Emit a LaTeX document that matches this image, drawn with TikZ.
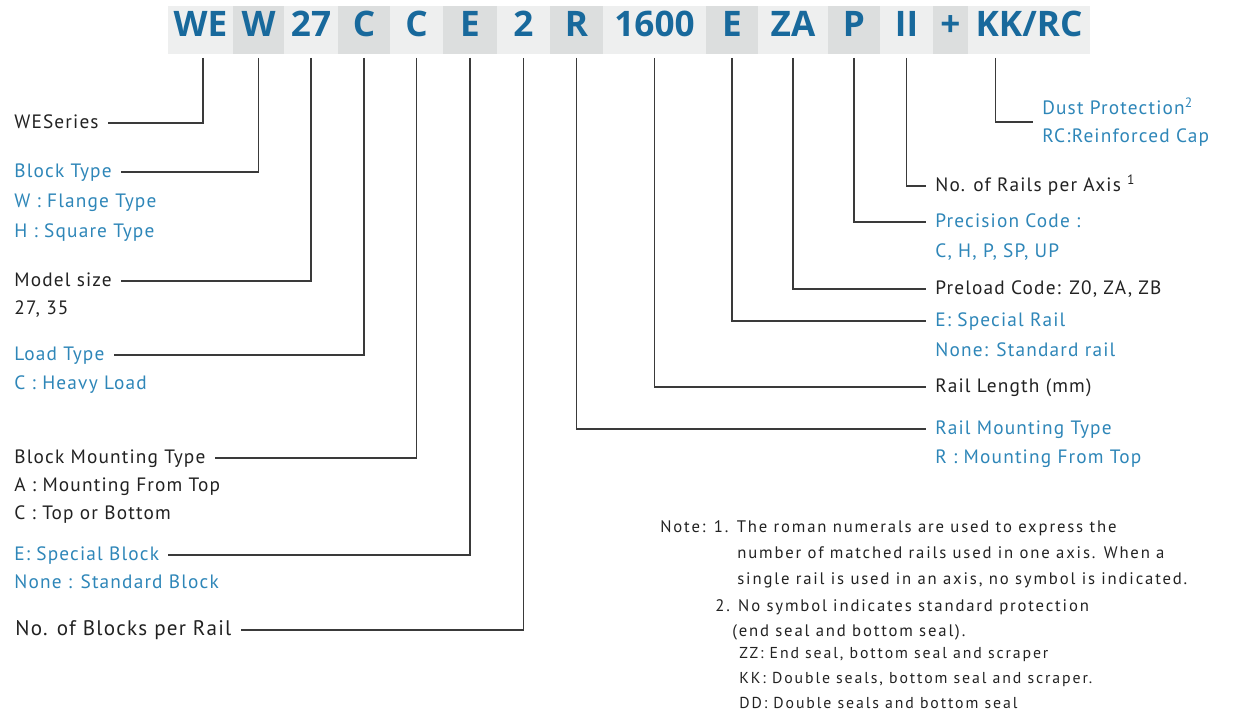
\documentclass[tikz,border=0pt]{standalone}
\usepackage{fontspec}
\setmainfont{PT Sans}[LetterSpace=6]
\newfontfamily\headfont{Open Sans}
\newfontfamily\notefont{PT Sans}[LetterSpace=11]
\newfontfamily\notesmallfont{PT Sans}[LetterSpace=12]
\usetikzlibrary{
  calc,
  positioning
}
\definecolor{ink}{HTML}{222222}
\definecolor{headblue}{HTML}{18699C}
\definecolor{labelblue}{HTML}{2E86B8}
\definecolor{linegray}{HTML}{3A3A3A}
\definecolor{seglight}{HTML}{EEEFEF}
\definecolor{segdark}{HTML}{DCDEDE}
\tikzset{
  font=\rmfamily,
  code/.style={
    font=\headfont\bfseries\fontsize{20}{20}\selectfont,
    text=headblue,
    minimum height=9.6mm,
    text height=0.72em,
    text depth=0pt,
    inner sep=0pt
  },
  code light/.style={code, fill=seglight},
  code dark/.style={code, fill=segdark},
  label/.style={
    anchor=west,
    inner sep=0pt,
    text height=7.8pt,
    text depth=2pt,
    text=ink,
    font=\rmfamily\fontsize{11}{12}\selectfont
  },
  label blue/.style={label, text=labelblue},
  note/.style={
    anchor=west,
    inner sep=0pt,
    text=ink,
    font=\notefont\fontsize{9.5}{11}\selectfont
  },
  note small/.style={note, font=\notesmallfont\fontsize{9}{10}\selectfont},
  leader/.style={draw=linegray, line width=0.9pt, shorten <=2pt, shorten >=5pt}
}

\begin{document}
\begin{tikzpicture}[x=0.2mm,y=-0.2mm]
  \useasboundingbox (0,0) rectangle (1234,713);

  % Ordering code
  \node[code light, minimum width=13mm] (tWE) at (200.5,30) {WE};
  \node[code dark, minimum width=10.2mm] (tW) at (258.5,30) {W};
  \node[code light, minimum width=10.8mm] (t27) at (311,30) {27};
  \node[code dark, minimum width=10.4mm] (tC1) at (364,30) {C};
  \node[code light, minimum width=10.6mm] (tC2) at (416.5,30) {C};
  \node[code dark, minimum width=10.8mm] (tE1) at (470,30) {E};
  \node[code light, minimum width=10.6mm] (t2) at (523.5,30) {2};
  \node[code dark, minimum width=10.6mm] (tR) at (576.5,30) {R};
  \node[code light, minimum width=20.6mm] (t1600) at (654.5,30) {1600};
  \node[code dark, minimum width=10.4mm] (tE2) at (732,30) {E};
  \node[code light, minimum width=14mm] (tZA) at (793,30) {ZA};
  \node[code dark, minimum width=10.4mm] (tP) at (854,30) {P};
  \node[code light, minimum width=10.6mm] (tII) at (906.5,30) {II};
  \node[code dark, minimum width=7mm] (tPlus) at (950.5,30) {+};
  \node[code light, minimum width=24.4mm] (tKK) at (1029,30) {KK/RC};
  \coordinate (wedrop) at ($(tWE.south)+(2.5,0)$);
  \coordinate (kkdrop) at ($(tKK.south west)+(28,0)$);

  % Block side
  \node[label] (lSeries) at (14,123) {WESeries};
  \node[label blue] (lBlock) at (14,172) {Block Type};
  \node[label blue] (lBlockW) at (14,202) {W : Flange Type};
  \node[label blue] (lBlockH) at (14,232) {H : Square Type};
  \node[label] (lSize) at (14,281) {Model size};
  \node[label] (lSizeVal) at (14,309) {27, 35};
  \node[label blue] (lLoad) at (14,355) {Load Type};
  \node[label blue] (lLoadC) at (14,384) {C : Heavy Load};
  \node[label] (lMount) at (14,458) {Block Mounting Type};
  \node[label] (lMountA) at (14,486) {A : Mounting From Top};
  \node[label] (lMountC) at (14,514) {C : Top or Bottom};
  \node[label blue] (lSpecial) at (14,555) {E: Special Block};
  \node[label blue] (lStandard) at (14,583) {None : Standard Block};
  \node[label, font=\rmfamily\fontsize{12}{14}\selectfont] (lBlocks) at (15,630) {No. of Blocks per Rail};

  % Rail side
  \node[label blue, align=left, text height=, text depth=,
        font=\rmfamily\fontsize{11}{16}\selectfont] (lDust) at (1042,122) {
    Dust Protection\textsuperscript{2}\\RC:Reinforced Cap
  };
  \node[label] (lRails) at (935,186) {No. of Rails per Axis \textsuperscript{1}};
  \node[label blue] (lPrec) at (935,222) {Precision Code :};
  \node[label blue] (lPrecVal) at (935,252) {C, H, P, SP, UP};
  \node[label] (lPreload) at (935,289) {Preload Code: Z0, ZA, ZB};
  \node[label blue] (lSpRail) at (935,321) {E: Special Rail};
  \node[label blue] (lStdRail) at (935,351) {None: Standard rail};
  \node[label] (lLength) at (935,387) {Rail Length (mm)};
  \node[label blue] (lRMount) at (935,429) {Rail Mounting Type};
  \node[label blue] (lRMountR) at (935,458) {R : Mounting From Top};

  % Notes
  \node[note] (note1) at (660,528) {Note: 1. The roman numerals are used to express the};
  \node[note] (note2) at (737,553) {number of matched rails used in one axis. When a};
  \node[note] (note3) at (737,580) {single rail is used in an axis, no symbol is indicated.};
  \node[note] (note4) at (715,607) {2. No symbol indicates standard protection};
  \node[note] (note5) at (732,632) {(end seal and bottom seal).};
  \node[note small] (note6) at (739,655) {ZZ: End seal, bottom seal and scraper};
  \node[note small] (note7) at (739,679) {KK: Double seals, bottom seal and scraper.};
  \node[note small] (note8) at (739,703) {DD: Double seals and bottom seal};

  % Leaders to the block side
  \draw[leader] (wedrop) |- (lSeries.east);
  \draw[leader] (tW.south) |- (lBlock.east);
  \draw[leader] (t27.south) |- (lSize.east);
  \draw[leader] (tC1.south) |- (lLoad.east);
  \draw[leader] (tC2.south) |- (lMount.east);
  \draw[leader] (tE1.south) |- (lSpecial.east);
  \draw[leader] (t2.south) |- (lBlocks.east);

  % Leaders to the rail side
  \draw[leader] (tR.south) |- (lRMount.west);
  \draw[leader] (t1600.south) |- (lLength.west);
  \draw[leader] (tE2.south) |- (lSpRail.west);
  \draw[leader] (tZA.south) |- (lPreload.west);
  \draw[leader] (tP.south) |- (lPrec.west);
  \draw[leader] (tII.south) |- (lRails.west);
  \draw[leader] (kkdrop) |- (lDust.west);
\end{tikzpicture}
\end{document}
